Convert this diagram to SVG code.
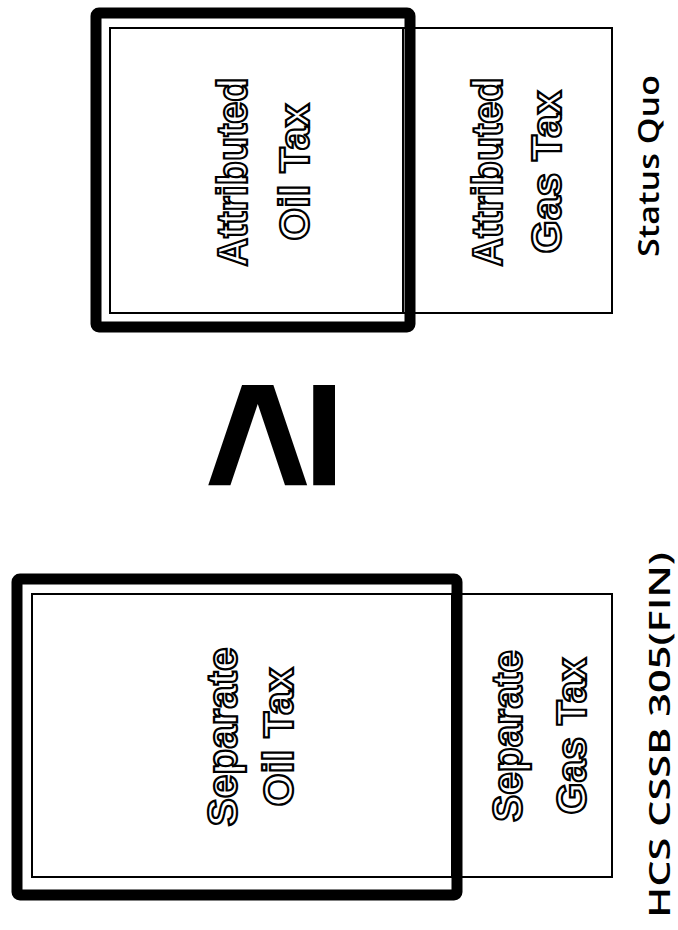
<svg xmlns="http://www.w3.org/2000/svg" width="678" height="930" viewBox="0 0 678 930">
<style>
.thin{fill:none;stroke:#000;stroke-width:2}
.thick{fill:none;stroke:#000;stroke-width:11}
.ol{font-family:"Liberation Sans",Arial,sans-serif;font-weight:bold;font-size:42px;fill:#fff;stroke:#000;stroke-width:2.2;text-anchor:middle}
.lbl{font-family:"Open Sans","Liberation Sans",sans-serif;font-weight:600;font-size:29px;fill:#000;text-anchor:middle}
.sym{font-family:"Liberation Sans",Arial,sans-serif;font-weight:bold;font-size:200px;fill:#000;text-anchor:middle}
</style>
<rect width="678" height="930" fill="#fff"/>
<g id="status-quo">
  <g id="attributed-gas-tax">
    <rect class="thin" x="403" y="28" width="209" height="285"/>
    <text class="ol" transform="translate(502,172) rotate(-90)" textLength="189" lengthAdjust="spacingAndGlyphs">Attributed</text>
    <text class="ol" transform="translate(561,172) rotate(-90)" textLength="163" lengthAdjust="spacingAndGlyphs">Gas Tax</text>
  </g>
  <g id="attributed-oil-tax">
    <rect class="thin" x="110" y="28" width="293" height="285"/>
    <text class="ol" transform="translate(247,172) rotate(-90)" textLength="189" lengthAdjust="spacingAndGlyphs">Attributed</text>
    <text class="ol" transform="translate(309,172) rotate(-90)" textLength="137" lengthAdjust="spacingAndGlyphs">Oil Tax</text>
  </g>
  <rect id="status-quo-highlight" class="thick" x="96" y="13" width="314" height="314" rx="3"/>
  <text id="status-quo-label" class="lbl" transform="translate(659,166) rotate(-90)" textLength="182" lengthAdjust="spacingAndGlyphs">Status Quo</text>
</g>
<g id="hcs">
  <g id="separate-gas-tax">
    <rect class="thin" x="452" y="594" width="160" height="283"/>
    <text class="ol" transform="translate(522,736) rotate(-90)" textLength="172" lengthAdjust="spacingAndGlyphs">Separate</text>
    <text class="ol" transform="translate(586,736) rotate(-90)" textLength="157" lengthAdjust="spacingAndGlyphs">Gas Tax</text>
  </g>
  <g id="separate-oil-tax">
    <rect class="thin" x="32" y="594" width="420" height="283"/>
    <text class="ol" transform="translate(237,737) rotate(-90)" textLength="179" lengthAdjust="spacingAndGlyphs">Separate</text>
    <text class="ol" transform="translate(293,737) rotate(-90)" textLength="139" lengthAdjust="spacingAndGlyphs">Oil Tax</text>
  </g>
  <rect id="hcs-highlight" class="thick" x="17" y="579" width="440" height="316" rx="3"/>
  <text id="hcs-label" class="lbl" transform="translate(670,735) rotate(-90)" textLength="366" lengthAdjust="spacingAndGlyphs">HCS CSSB 305(FIN)</text>
</g>
<g id="connectors">
  <text id="relation" class="sym" transform="translate(335,435) rotate(-90)">≥</text>
</g>
</svg>
